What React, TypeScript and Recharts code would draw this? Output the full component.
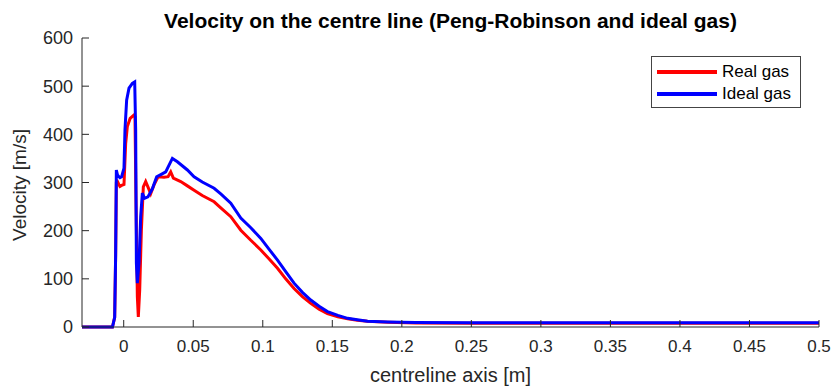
import React from "react";
import { LineChart, Line, XAxis, YAxis, Legend } from "recharts";

// centreline position [m] and velocity [m/s]
const realX = [
  -0.03, -0.0081, -0.0065, -0.0058, -0.0053, -0.0045, -0.0035, -0.0027, -0.0015, 0.0002, 0.0014,
  0.0026, 0.0046, 0.0074, 0.0081, 0.0088, 0.0098, 0.0105, 0.0115, 0.0127, 0.0141, 0.0158, 0.0174,
  0.0194, 0.0218, 0.0247, 0.029, 0.0319, 0.0338, 0.0357, 0.041, 0.0458, 0.0506, 0.0565, 0.065, 0.07,
  0.077, 0.0842, 0.0914, 0.0986, 0.1046, 0.1106, 0.1165, 0.1225, 0.1285, 0.1345, 0.1405, 0.1465,
  0.154, 0.161, 0.168, 0.1753, 0.19, 0.21, 0.25, 0.3, 0.4, 0.5,
];
const realV = [
  0, 0, 20, 150, 300, 302, 296, 292, 294, 296, 381,
  416, 433, 440, 437, 270, 63, 21, 77, 201, 291, 302, 291,
  277, 295, 312, 311, 312, 322, 309, 302, 293, 284, 273, 260, 247,
  229, 201, 180, 160, 141, 122, 100, 80, 63, 49, 37, 28,
  21, 17, 14, 12, 10, 8.5, 8, 8, 8, 8,
];

const idealX = [
  -0.03, -0.0081, -0.0065, -0.0058, -0.0053, -0.0045, -0.0035, -0.0027, -0.0015, 0.0002, 0.0009,
  0.0021, 0.0038, 0.0062, 0.0079, 0.0086, 0.0091, 0.0098, 0.011, 0.0122, 0.0134, 0.015, 0.0174,
  0.0206, 0.0237, 0.027, 0.0302, 0.0326, 0.035, 0.0386, 0.0458, 0.0506, 0.0565, 0.065, 0.07,
  0.077, 0.0842, 0.0914, 0.0986, 0.1046, 0.1106, 0.1165, 0.1225, 0.1285, 0.1345, 0.1405, 0.1465,
  0.154, 0.161, 0.168, 0.1753, 0.19, 0.21, 0.25, 0.3, 0.4, 0.5,
];
const idealV = [
  0, 0, 20, 150, 326, 316, 312, 310, 312, 330, 409,
  471, 496, 506, 509, 409, 133, 91, 133, 229, 278, 267, 270,
  287, 312, 317, 322, 336, 350, 343, 326, 312, 301, 288, 276,
  257, 226, 206, 184, 161, 139, 115, 91, 72, 56, 43, 32,
  24, 18, 15, 12, 10.5, 9.5, 9, 9, 9, 9,
];

const xTicks = [0, 0.05, 0.1, 0.15, 0.2, 0.25, 0.3, 0.35, 0.4, 0.45, 0.5];
const xTickLabels = ["0", "0.05", "0.1", "0.15", "0.2", "0.25", "0.3", "0.35", "0.4", "0.45", "0.5"];
const yTicks = [0, 100, 200, 300, 400, 500, 600];

const series = [
  { name: "Real gas", color: "#ff0000", xs: realX, vs: realV },
  { name: "Ideal gas", color: "#0000ff", xs: idealX, vs: idealV },
];

const FONT = "'Liberation Sans', Arial, Helvetica, sans-serif";
const AXIS = "#262626";

function YTitle() {
  const cx = 26;
  const cy = 185;
  return (
    <text
      x={cx}
      y={cy}
      transform={`rotate(-90 ${cx} ${cy})`}
      textAnchor="middle"
      fontFamily={FONT}
      fontSize={19}
      fill={AXIS}>
      Velocity [m/s]
    </text>
  );
}

function LegendBox() {
  return (
    <div
      style={{
        width: 150,
        height: 52,
        border: "1px solid #444",
        background: "#fff",
        fontFamily: FONT,
        fontSize: 17,
        color: "#000",
        padding: "4px 0 0 5px",
        boxSizing: "border-box",
      }}>
      {series.map((s) => (
        <div key={s.name} style={{ display: "flex", alignItems: "center", height: 22 }}>
          <div style={{ width: 60, height: 4, background: s.color, marginRight: 5 }} />
          <span>{s.name}</span>
        </div>
      ))}
    </div>
  );
}

export default function App() {
  const lineData = series.map((s) => s.xs.map((x, i) => ({ x, v: s.vs[i] })));

  return (
    <div style={{ position: "absolute", left: 0, top: 0, width: 835, height: 392, background: "#fff" }}>
      <div
        style={{
          position: "absolute",
          left: 0,
          width: 901,
          top: 11,
          lineHeight: "20px",
          textAlign: "center",
          fontFamily: FONT,
          fontWeight: "bold",
          fontSize: 21,
          color: "#000",
          whiteSpace: "nowrap",
        }}>
        Velocity on the centre line (Peng-Robinson and ideal gas)
      </div>
      <LineChart width={835} height={392} margin={{ top: 38, right: 16, bottom: 0, left: 0 }}>
        <XAxis
          type="number"
          dataKey="x"
          domain={[-0.03, 0.5]}
          ticks={xTicks}
          interval={0}
          allowDataOverflow
          height={65}
          tickSize={-7}
          tickMargin={20}
          tickFormatter={(v: number) => xTickLabels[xTicks.indexOf(v)] ?? String(v)}
          stroke={AXIS}
          tick={{ fill: AXIS, fontSize: 17, fontFamily: FONT }}
          label={{
            value: "centreline axis [m]",
            position: "insideBottom",
            offset: 10,
            fill: AXIS,
            fontSize: 20,
            fontFamily: FONT,
          }}
        />
        <YAxis
          type="number"
          domain={[0, 600]}
          ticks={yTicks}
          interval={0}
          width={82}
          tickSize={-7}
          tickMargin={16}
          stroke={AXIS}
          tick={{ fill: AXIS, fontSize: 18, fontFamily: FONT }}
          label={<YTitle />}
        />
        <Legend
          layout="vertical"
          align="center"
          verticalAlign="middle"
          content={() => <LegendBox />}
          wrapperStyle={{ position: "absolute", left: 651, top: 56, width: 150, height: 52 }}
        />
        {series.map((s, i) => (
          <Line
            key={s.name}
            name={s.name}
            data={lineData[i]}
            dataKey="v"
            type="linear"
            stroke={s.color}
            strokeWidth={3}
            dot={false}
            activeDot={false}
            isAnimationActive={false}
          />
        ))}
      </LineChart>
    </div>
  );
}
